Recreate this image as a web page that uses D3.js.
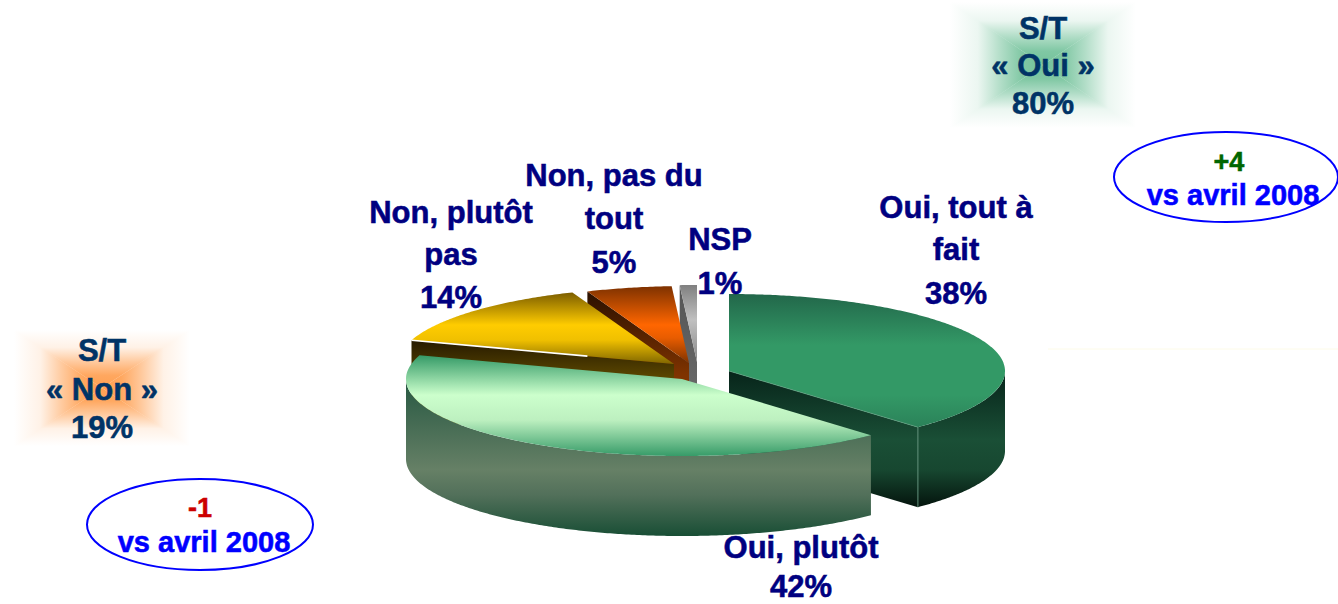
<!DOCTYPE html>
<html><head><meta charset="utf-8">
<script src="https://cdn.jsdelivr.net/npm/d3@7/dist/d3.min.js"></script>
<style>html,body{margin:0;padding:0;background:#fff;overflow:hidden}svg{display:block}
text{font-family:"Liberation Sans",Arial,sans-serif;font-weight:bold;text-anchor:middle;stroke-width:.55px;paint-order:stroke}</style>
</head><body>
<svg id="c" width="1338" height="604"></svg>
<script>
// ---- data ----
const categories = ["Oui, tout à fait","Oui, plutôt","Non, plutôt pas","Non, pas du tout","NSP"];
const values = [38,42,14,5,1];
const labelLines = [["Oui, tout à","fait","38%"],["Oui, plutôt","42%"],["Non, plutôt","pas","14%"],["Non, pas du","tout","5%"],["NSP","1%"]];
const totals = [["S/T","« Oui »","80%"],["S/T","« Non »","19%"]];
const changes = [["+4","vs avril 2008"],["-1","vs avril 2008"]];

// ---- drawing config ----
const W=1338,H=604,RX=276,RY=77,DEPTH=80;
const sliceApex=[[729,371],[682,379],[674,364],[689,363],[697,362]];
const palette=[
 {top:[[294,"#22674a"],[345,"#339966"],[395,"#339966"],[430,"#2a8058"]],
  wall:[[371,"#07241a"],[440,"#1a4f36"],[470,"#174730"],[507,"#04140d"]]},
 {top:[[355,"#339966"],[395,"#ccffcc"],[420,"#bdf0c0"],[457,"#339966"]],
  wall:[[385,"#2a5a44"],[470,"#668066"],[495,"#52705a"],[535,"#1a4f36"]]},
 {top:[[292,"#7a5c00"],[325,"#ffcc00"],[340,"#f0c000"],[364,"#806600"]],
  wall:[[340,"#251900"],[385,"#665000"]]},
 {top:[[285,"#7a3000"],[325,"#ff6600"],[338,"#e85c00"],[363,"#7f3300"]],
  wall:[[291,"#2a1000"],[375,"#7f3300"]]},
 {top:[[285,"#808080"],[320,"#c0c0c0"],[362,"#888888"]],
  wall:[[285,"#555555"],[380,"#666666"]]}
];
const labelPos=[
 {x:956,y:[218,260,304]},{x:801,y:[558,597]},{x:451,y:[223,265,308]},
 {x:614,y:[186,229,273]},{x:720,y:[250,294]}
];
const svg=d3.select("#c"),defs=svg.append("defs");
function grad(id,stops){
  const y0=stops[0][0],y1=stops[stops.length-1][0];
  const g=defs.append("linearGradient").attr("id",id).attr("gradientUnits","userSpaceOnUse")
    .attr("x1",0).attr("x2",0).attr("y1",y0).attr("y2",y1);
  stops.forEach(s=>g.append("stop").attr("offset",(s[0]-y0)/(y1-y0)).attr("stop-color",s[1]));
  return `url(#${id})`;
}
const pie=d3.pie().sort(null).value(d=>d)(values);
const rx=d3.scaleLinear().domain([0,1]).range([0,RX]);
const ry=d3.scaleLinear().domain([0,1]).range([0,RY]);
const line=d3.line();
const pt=(c,a,dz=0)=>[c[0]+rx(Math.sin(a)),c[1]-ry(Math.cos(a))+dz];
const arcPts=(c,a,b,dz=0)=>{
  const n=Math.max(2,Math.ceil((b-a)/0.01));
  return d3.range(n+1).map(i=>pt(c,a+(b-a)*i/n,dz));
};
// back to front
[4,3,2,0,1].forEach(i=>{
  const s=pie[i],c=sliceApex[i],a=s.startAngle,b=s.endAngle,p=palette[i];
  const wf=grad("w"+i,p.wall),tf=grad("t"+i,p.top);
  const g=svg.append("g").attr("class","slice").attr("data-cat",categories[i]);
  const face=ang=>{const e=pt(c,ang);
    g.append("path").attr("d",line([c,e,[e[0],e[1]+DEPTH],[c[0],c[1]+DEPTH]])+"Z").attr("fill",wf);};
  if(Math.sin(a)<-1e-6) face(a);
  if(Math.sin(b)>1e-6) face(b);
  const wa=Math.max(a,Math.PI/2),wb=Math.min(b,3*Math.PI/2);
  if(wb>wa){
    const up=arcPts(c,wa,wb),dn=arcPts(c,wa,wb,DEPTH).reverse();
    g.append("path").attr("d",line(up.concat(dn))+"Z").attr("fill",wf);
  }
  g.append("path").attr("d",line([c].concat(arcPts(c,a,b)))+"Z").attr("fill",tf);
  if(i===0){ // pale corner edge
    const e=pt(c,b);
    g.append("path").attr("d",line([e,[e[0],e[1]+DEPTH]])).attr("stroke","#5f8f78").attr("stroke-width",1).attr("fill","none");
    g.append("path").attr("d",line([c,e])).attr("stroke","#5f9f80").attr("stroke-width",.7).attr("fill","none");
  }
  if(i===2){ // white rim on the yellow slice's front edge
    const e=pt(c,a),m=[e[0]+(c[0]-e[0])*.67,e[1]+(c[1]-e[1])*.67];
    g.append("path").attr("d",line([e,m])).attr("stroke","#fff").attr("stroke-width",1.6).attr("fill","none");
  }
});
// labels
labelLines.forEach((ls,i)=>{
  ls.forEach((t,j)=>svg.append("text").attr("x",labelPos[i].x).attr("y",labelPos[i].y[j])
    .attr("font-size",31).attr("fill","#000080").attr("stroke","#000080").text(t));
});
// glow boxes
function glow(id,x0,y0,x1,y1,cx,cy,col){
  const stops=[[0,.85],[.22,.78],[.45,.48],[.7,.12],[1,0]];
  const gr=(n,xa,ya,xb,yb)=>{
    const g=defs.append("linearGradient").attr("id",id+n).attr("gradientUnits","userSpaceOnUse")
      .attr("x1",xa).attr("y1",ya).attr("x2",xb).attr("y2",yb);
    stops.forEach(s=>g.append("stop").attr("offset",s[0]).attr("stop-color",col).attr("stop-opacity",s[1]));
    return `url(#${id}${n})`;
  };
  const g=svg.append("g");
  g.append("path").attr("d",line([[cx,cy],[x0,y0],[x1,y0]])+"Z").attr("fill",gr("t",cx,cy,cx,y0));
  g.append("path").attr("d",line([[cx,cy],[x1,y0],[x1,y1]])+"Z").attr("fill",gr("r",cx,cy,x1,cy));
  g.append("path").attr("d",line([[cx,cy],[x1,y1],[x0,y1]])+"Z").attr("fill",gr("b",cx,cy,cx,y1));
  g.append("path").attr("d",line([[cx,cy],[x0,y1],[x0,y0]])+"Z").attr("fill",gr("l",cx,cy,x0,cy));
}
glow("gg",950,2,1136,128,1043,65,"#5cb88a");
glow("go",14,330,190,446,102,388,"#ff8f33");
const totalPos=[{x:1043,y:[39,76,114]},{x:102,y:[361,400,438]}];
totals.forEach((ls,i)=>ls.forEach((t,j)=>svg.append("text").attr("x",totalPos[i].x).attr("y",totalPos[i].y[j])
  .attr("font-size",31).attr("fill","#003366").attr("stroke","#003366").text(t)));
// change ellipses
const changePos=[{cx:1226,cy:177,rx:112,ry:45,tx:[1229,1233],ty:[171,205],col:"#006600"},
                 {cx:200,cy:524.5,rx:113,ry:45.5,tx:[200,204],ty:[517,552],col:"#cc0000"}];
changes.forEach((ls,i)=>{
  const p=changePos[i];
  svg.append("ellipse").attr("cx",p.cx).attr("cy",p.cy).attr("rx",p.rx).attr("ry",p.ry)
    .attr("fill","none").attr("stroke","#0000ff").attr("stroke-width",2);
  svg.append("text").attr("x",p.tx[0]).attr("y",p.ty[0]).attr("font-size",27).attr("fill",p.col).attr("stroke",p.col).text(ls[0]);
  svg.append("text").attr("x",p.tx[1]).attr("y",p.ty[1]).attr("font-size",29).attr("fill","#0000ff").attr("stroke","#0000ff").text(ls[1]);
});
svg.append("line").attr("x1",1048).attr("x2",1338).attr("y1",349).attr("y2",349).attr("stroke","#fdfbe8");
</script>
</body></html>
